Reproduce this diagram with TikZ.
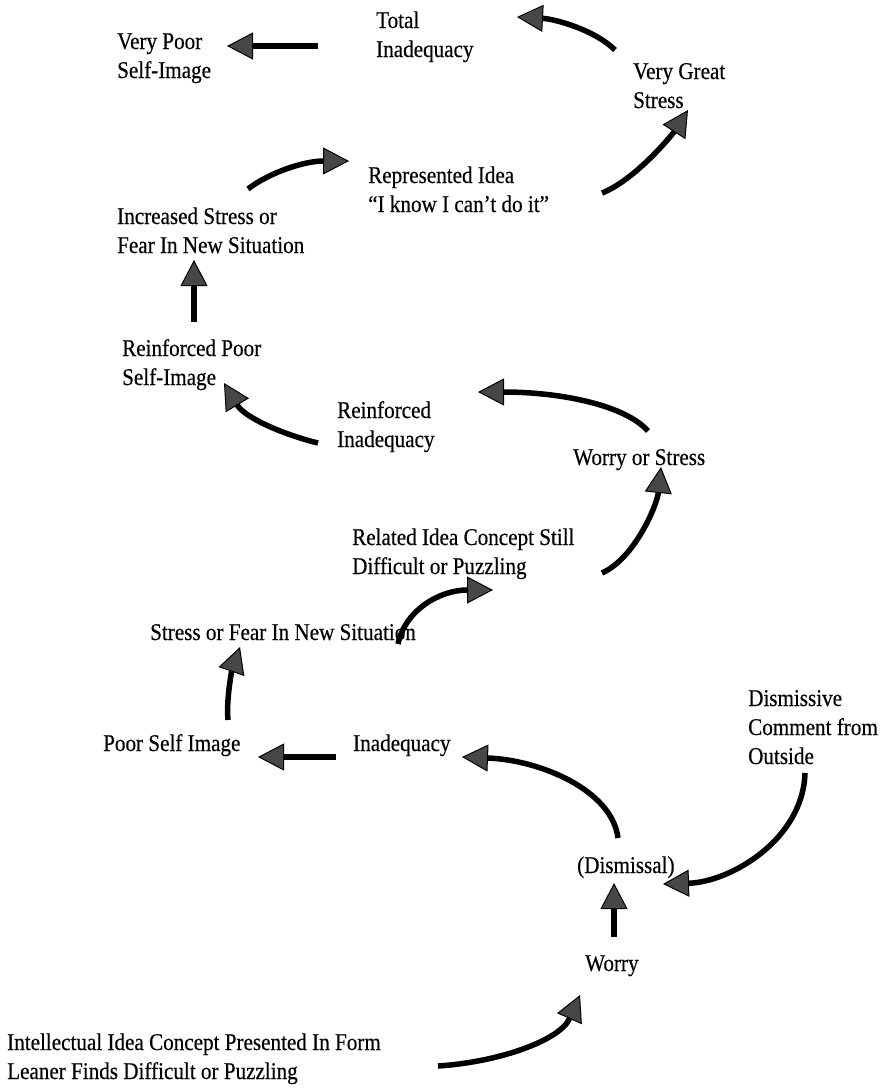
\documentclass[tikz,border=0pt]{standalone}
\usepackage{fontspec}
\setmainfont{Liberation Serif}[FakeStretch=0.88,FakeBold=0.4]
\usetikzlibrary{arrows.meta}
\definecolor{headgray}{gray}{0.28}
\begin{document}
\begin{tikzpicture}[x=1pt,y=-1pt,
  lbl/.style={anchor=base west,inner sep=0pt,align=left,font=\fontsize{24}{29}\selectfont},
  conn/.style={line width=5.5pt,-{Triangle[length=26pt,width=27pt,line width=1pt,fill=headgray]}}]
\useasboundingbox (0,0) rectangle (889,1088);
% labels (placed at the baseline of their last line)
\node[lbl] (vps) at (117,78) {Very Poor\\Self-Image};
\node[lbl] (tot) at (376,57) {Total\\Inadequacy};
\node[lbl] (vgs) at (633,108) {Very Great\\Stress};
\node[lbl] (rep) at (368,212) {Represented Idea\\“I know I can’t do it”};
\node[lbl] (inc) at (117,253) {Increased Stress or\\Fear In New Situation};
\node[lbl] (rps) at (122,385) {Reinforced Poor\\Self-Image};
\node[lbl] (rin) at (337,447) {Reinforced\\Inadequacy};
\node[lbl] (wos) at (573,465) {Worry or Stress};
\node[lbl] (rel) at (352,574) {Related Idea Concept Still\\Difficult or Puzzling};
\node[lbl] (sfn) at (150,640) {Stress or Fear In New Situation};
\node[lbl] (psi) at (103,751) {Poor Self Image};
\node[lbl] (ina) at (353,751) {Inadequacy};
\node[lbl] (dco) at (748,764) {Dismissive\\Comment from\\Outside};
\node[lbl] (dis) at (577,873) {(Dismissal)};
\node[lbl] (wor) at (585,971) {Worry};
\node[lbl] (int) at (7,1079) {Intellectual Idea Concept Presented In Form\\Leaner Finds Difficult or Puzzling};
% connectors
\draw[conn] ([shift={(-58,-11)}]tot.base west) -- ([shift={(110,-32)}]vps.base west);
\draw[conn] ([shift={(-18,-58)}]vgs.base west) .. controls +(-20,-20) and +(38,2) .. ([shift={(141,-40)}]tot.base west);
\draw[conn] ([shift={(234,-19)}]rep.base west) .. controls +(33,-13) and +(-16,25) .. ([shift={(55,2)}]vgs.base west);
\draw[conn] ([shift={(131,-64)}]inc.base west) .. controls +(22,-17) and +(-44,0) .. ([shift={(-19,-51)}]rep.base west);
\draw[conn] ([shift={(72,-63)}]rps.base west) -- ([shift={(77,7)}]inc.base west);
\draw[conn] ([shift={(-19,-4)}]rin.base west) .. controls +(-33,-8) and +(21,35) .. ([shift={(102,-2)}]rps.base west);
\draw[conn] ([shift={(75,-34)}]wos.base west) .. controls +(-23,-26) and +(82,0) .. ([shift={(141,-55)}]rin.base west);
\draw[conn] ([shift={(250,-1)}]rel.base west) .. controls +(33,-15) and +(-4,38) .. ([shift={(88,2)}]wos.base west);
\draw[conn] ([shift={(248,4)}]sfn.base west) .. controls +(7,-34) and +(-53,0) .. ([shift={(141,16)}]rel.base west);
\draw[conn] ([shift={(125,-31)}]psi.base west) .. controls +(-2,-20) and +(-8,23) .. ([shift={(90,7)}]sfn.base west);
\draw[conn] ([shift={(-17,6)}]ina.base west) -- ([shift={(155,6)}]psi.base west);
\draw[conn] ([shift={(41,-35)}]dis.base west) .. controls +(-6,-48) and +(78,3) .. ([shift={(109,6)}]ina.base west);
\draw[conn] ([shift={(57,9)}]dco.base west) .. controls +(-2,67) and +(67,-2) .. ([shift={(86,11)}]dis.base west);
\draw[conn] ([shift={(29,-34)}]wor.base west) -- ([shift={(37,10)}]dis.base west);
\draw[conn] ([shift={(431,-13)}]int.base west) .. controls +(62,-4) and +(-20,45) .. ([shift={(-5,24)}]wor.base west);
\end{tikzpicture}
\end{document}
